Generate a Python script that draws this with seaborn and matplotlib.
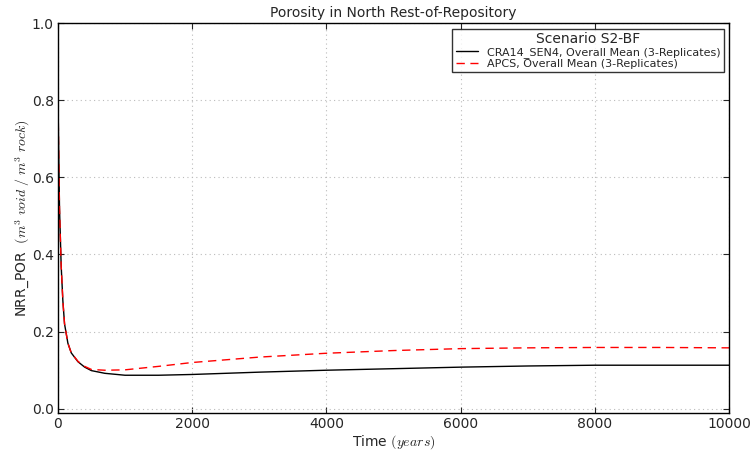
import matplotlib
matplotlib.use("Agg")
import matplotlib.pyplot as plt
import seaborn as sns
import pandas as pd
import numpy as np

sns.set_style("white")
plt.rcParams['font.family'] = ['DejaVu Sans']
plt.rcParams['mathtext.fontset'] = 'cm'

time_cra = [0, 10, 25, 50, 75, 100, 150, 200, 300, 400, 500, 700, 1000, 1500, 2000, 3000, 4000, 5000, 6000, 7000, 8000, 9000, 10000]
por_cra = [0.85, 0.70, 0.52, 0.37, 0.28, 0.22, 0.17, 0.145, 0.122, 0.108, 0.099, 0.092, 0.087, 0.087, 0.089, 0.095, 0.100, 0.104, 0.108, 0.111, 0.113, 0.113, 0.113]
time_apcs = [0, 10, 25, 50, 75, 100, 150, 200, 300, 400, 500, 700, 1000, 1500, 2000, 3000, 4000, 5000, 6000, 7000, 8000, 9000, 10000]
por_apcs = [0.85, 0.70, 0.52, 0.37, 0.28, 0.22, 0.17, 0.145, 0.123, 0.110, 0.102, 0.100, 0.101, 0.110, 0.120, 0.134, 0.144, 0.151, 0.156, 0.158, 0.159, 0.159, 0.158]

label_cra = "CRA14_SEN4, Overall Mean (3-Replicates)"
label_apcs = "APCS, Overall Mean (3-Replicates)"

fig, ax = plt.subplots(figsize=(7.51, 4.51), dpi=100)
fig.subplots_adjust(left=0.077, right=0.971, top=0.949, bottom=0.085)

df1 = pd.DataFrame({"t": time_cra, "v": por_cra})
df2 = pd.DataFrame({"t": time_apcs, "v": por_apcs})
sns.lineplot(data=df1, x="t", y="v", ax=ax, color="black", lw=1.0, label=label_cra)
sns.lineplot(data=df2, x="t", y="v", ax=ax, color="red", lw=1.0, label=label_apcs)
ax.lines[1].set_dashes([6, 4])

ax.set_xlim(0, 10000)
ax.set_ylim(-0.01, 1.0)
ax.set_xticks([0, 2000, 4000, 6000, 8000, 10000])
ax.set_yticks([0.0, 0.2, 0.4, 0.6, 0.8, 1.0])
ax.set_yticklabels(["0.0", "0.2", "0.4", "0.6", "0.8", "1.0"])
ax.grid(True, linestyle=(0, (1, 3)), color='#bbbbbb', lw=0.8)
ax.tick_params(direction='in', length=4, labelsize=10, pad=3, top=True, right=True, bottom=True, left=True)
for s in ax.spines.values():
    s.set_color('black')
    s.set_linewidth(1.0)

ax.set_title("Porosity in North Rest-of-Repository", fontsize=10, pad=4)
ax.set_xlabel(r"Time $(years)$", fontsize=10, labelpad=2)
ax.set_ylabel(r"NRR_POR  $(m^3\ void\ /\ m^3\ rock)$", fontsize=10, labelpad=0)

leg = ax.legend(loc="upper right", title="Scenario S2-BF", fontsize=8, title_fontsize=10,
                frameon=True, fancybox=False, edgecolor='black', borderpad=0.3,
                labelspacing=0.1, handlelength=2.0)
leg.get_frame().set_linewidth(1.0)

fig.savefig("out.png", dpi=100)
